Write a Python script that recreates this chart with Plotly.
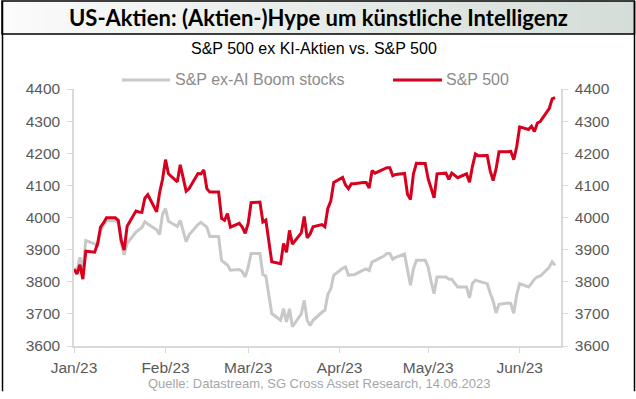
import plotly.graph_objects as go

dates = [
 "2023-01-02","2023-01-03","2023-01-04","2023-01-05","2023-01-06",
 "2023-01-09","2023-01-10","2023-01-11","2023-01-12","2023-01-13",
 "2023-01-16","2023-01-17","2023-01-18","2023-01-19","2023-01-20",
 "2023-01-23","2023-01-24","2023-01-25","2023-01-26","2023-01-27",
 "2023-01-30","2023-01-31","2023-02-01","2023-02-02","2023-02-03",
 "2023-02-06","2023-02-07","2023-02-08","2023-02-09","2023-02-10",
 "2023-02-13","2023-02-14","2023-02-15","2023-02-16","2023-02-17",
 "2023-02-20","2023-02-21","2023-02-22","2023-02-23","2023-02-24",
 "2023-02-27","2023-02-28","2023-03-01","2023-03-02","2023-03-03",
 "2023-03-06","2023-03-07","2023-03-08","2023-03-09","2023-03-10",
 "2023-03-13","2023-03-14","2023-03-15","2023-03-16","2023-03-17",
 "2023-03-20","2023-03-21","2023-03-22","2023-03-23","2023-03-24",
 "2023-03-27","2023-03-28","2023-03-29","2023-03-30","2023-03-31",
 "2023-04-03","2023-04-04","2023-04-05","2023-04-06","2023-04-07",
 "2023-04-10","2023-04-11","2023-04-12","2023-04-13","2023-04-14",
 "2023-04-17","2023-04-18","2023-04-19","2023-04-20","2023-04-21",
 "2023-04-24","2023-04-25","2023-04-26","2023-04-27","2023-04-28",
 "2023-05-01","2023-05-02","2023-05-03","2023-05-04","2023-05-05",
 "2023-05-08","2023-05-09","2023-05-10","2023-05-11","2023-05-12",
 "2023-05-15","2023-05-16","2023-05-17","2023-05-18","2023-05-19",
 "2023-05-22","2023-05-23","2023-05-24","2023-05-25","2023-05-26",
 "2023-05-29","2023-05-30","2023-05-31","2023-06-01","2023-06-02",
 "2023-06-05","2023-06-06","2023-06-07","2023-06-08","2023-06-09",
 "2023-06-12","2023-06-13","2023-06-14",
]

sp500 = [
 3839, 3824, 3853, 3808, 3895,
 3892, 3919, 3970, 3983, 3999,
 3999, 3991, 3929, 3899, 3973,
 4020, 4017, 4016, 4060, 4071,
 4018, 4077, 4119, 4180, 4136,
 4111, 4164, 4118, 4082, 4090,
 4137, 4136, 4148, 4090, 4079,
 4079, 3997, 3991, 4012, 3970,
 3982, 3970, 3951, 3981, 4046,
 4048, 3986, 3992, 3918, 3862,
 3856, 3919, 3892, 3960, 3917,
 3952, 4003, 3937, 3949, 3971,
 3978, 3971, 4028, 4051, 4109,
 4125, 4101, 4090, 4105, 4105,
 4109, 4109, 4092, 4146, 4138,
 4151, 4155, 4155, 4130, 4134,
 4137, 4072, 4056, 4135, 4169,
 4168, 4120, 4091, 4061, 4136,
 4138, 4119, 4138, 4131, 4124,
 4136, 4110, 4159, 4198, 4192,
 4193, 4146, 4115, 4151, 4205,
 4205, 4206, 4180, 4221, 4282,
 4274, 4284, 4268, 4294, 4299,
 4339, 4369, 4373,
]

ex_ai = [
 3842, 3835, 3876, 3838, 3928,
 3918, 3910, 3960, 3975, 3990,
 3990, 3984, 3921, 3884, 3920,
 3955, 3962, 3969, 3987, 3980,
 3962, 3946, 4010, 4028, 3988,
 3972, 3991, 3958, 3925, 3946,
 3978, 3985, 3976, 3970, 3941,
 3941, 3866, 3860, 3852, 3836,
 3838, 3832, 3815, 3845, 3888,
 3888, 3822, 3818, 3760, 3701,
 3680, 3716, 3675, 3716, 3660,
 3700, 3742, 3680, 3664, 3680,
 3705, 3711, 3760, 3778, 3820,
 3842, 3846, 3820, 3822, 3822,
 3836, 3840, 3835, 3862, 3866,
 3880, 3888, 3888, 3870, 3876,
 3886, 3840, 3789, 3840, 3867,
 3867, 3845, 3800, 3763, 3815,
 3815, 3808, 3808, 3795, 3784,
 3784, 3750, 3795, 3805, 3802,
 3794, 3765, 3740, 3703, 3730,
 3734, 3732, 3702, 3760, 3794,
 3784, 3795, 3808, 3815, 3818,
 3845, 3862, 3851,
]

tick_dates = ["2023-01-02","2023-02-02","2023-03-02","2023-04-02","2023-05-02","2023-06-02"]
tick_labels = ["Jan/23","Feb/23","Mar/23","Apr/23","May/23","Jun/23"]
y_ticks = [3600,3700,3800,3900,4000,4100,4200,4300,4400]

W, H = 636, 399
L, R, T, B = 74, 561, 89, 345.7

def px(x):
    return (x - L) / (R - L)

def py(y):
    return (B - y) / (B - T)

FONT = "Liberation Sans, Arial, sans-serif"
AX = "#d9d9d9"
TXT = "#595959"
FS = 15.5

fig = go.Figure()
fig.add_trace(go.Scatter(x=dates, y=ex_ai, mode="lines", name="S&P ex-AI Boom stocks",
                         line=dict(color="#c8c8c8", width=3), showlegend=False))
fig.add_trace(go.Scatter(x=dates, y=sp500, mode="lines", name="S&P 500", yaxis="y2",
                         line=dict(color="#d7001e", width=3), showlegend=False))

axis_common = dict(range=[3600, 4400], tickvals=y_ticks, showgrid=False, zeroline=False,
                   showline=True, linecolor=AX, linewidth=1.5, ticks="outside",
                   ticklen=5, tickcolor=AX, tickwidth=1, ticklabelstandoff=4,
                   tickfont=dict(family=FONT, size=FS, color=TXT))

fig.update_layout(
    width=W, height=H,
    margin=dict(l=L, r=W - R, t=T, b=H - B),
    paper_bgcolor="white", plot_bgcolor="white",
    xaxis=dict(type="date", range=["2023-01-02", "2023-06-16"], tickvals=tick_dates,
               ticktext=tick_labels, showgrid=False, zeroline=False, showline=True,
               linecolor=AX, linewidth=1.5, ticks="outside", ticklen=5, tickcolor=AX,
               ticklabelstandoff=2,
               tickfont=dict(family=FONT, size=FS, color=TXT)),
    yaxis=dict(side="left", **axis_common),
    yaxis2=dict(side="right", overlaying="y", **axis_common),
)

shapes = []
# banner gradient
n = 60
x0, x1 = 2, 634
c0 = (250, 251, 250)
c1 = (212, 221, 215)
for i in range(n):
    t = i / (n - 1)
    c = tuple(int(round(c0[k] + (c1[k] - c0[k]) * t)) for k in range(3))
    a = x0 + (x1 - x0) * i / n
    b = x0 + (x1 - x0) * (i + 1) / n + 0.6
    shapes.append(dict(type="rect", xref="paper", yref="paper", x0=px(a), x1=px(min(b, x1)),
                       y0=py(34), y1=py(1), fillcolor="rgb(%d,%d,%d)" % c, line=dict(width=0),
                       layer="below"))
# banner border & frame
shapes.append(dict(type="rect", xref="paper", yref="paper", x0=px(2), x1=px(634.5), y0=py(34), y1=py(1),
                   line=dict(color="black", width=1.5), fillcolor="rgba(0,0,0,0)"))
shapes.append(dict(type="line", xref="paper", yref="paper", x0=px(2.5), x1=px(2.5), y0=py(391), y1=py(1),
                   line=dict(color="black", width=1.5)))
shapes.append(dict(type="line", xref="paper", yref="paper", x0=px(634.5), x1=px(634.5), y0=py(391), y1=py(1),
                   line=dict(color="black", width=1.5)))
# legend line samples
shapes.append(dict(type="line", xref="paper", yref="paper", x0=px(122), x1=px(170), y0=py(80), y1=py(80),
                   line=dict(color="#c8c8c8", width=3)))
shapes.append(dict(type="line", xref="paper", yref="paper", x0=px(393), x1=px(442), y0=py(80), y1=py(80),
                   line=dict(color="#d7001e", width=3)))
fig.update_layout(shapes=shapes)

ann = []
ann.append(dict(text="<b>US-Aktien: (Aktien-)Hype um künstliche Intelligenz</b>", xref="paper", yref="paper",
                x=px(318), y=py(18), xanchor="center", yanchor="middle", showarrow=False,
                font=dict(family="Lato, Carlito, Calibri, sans-serif", size=22, color="black")))
ann.append(dict(text="S&P 500 ex KI-Aktien vs. S&P 500", xref="paper", yref="paper",
                x=px(314), y=py(49), xanchor="center", yanchor="middle", showarrow=False,
                font=dict(family=FONT, size=16, color="black")))
ann.append(dict(text="S&P ex-AI Boom stocks", xref="paper", yref="paper",
                x=px(173), y=py(80), xanchor="left", yanchor="middle", showarrow=False,
                font=dict(family=FONT, size=16, color="#8c8c8c")))
ann.append(dict(text="S&P 500", xref="paper", yref="paper",
                x=px(444), y=py(80), xanchor="left", yanchor="middle", showarrow=False,
                font=dict(family=FONT, size=16, color="#8c8c8c")))
ann.append(dict(text="Quelle: Datastream, SG Cross Asset Research, 14.06.2023", xref="paper", yref="paper",
                x=px(319), y=py(383), xanchor="center", yanchor="middle", showarrow=False,
                font=dict(family=FONT, size=13, color="#a6a6a6")))
fig.update_layout(annotations=ann)

fig.write_html("out.html", config={"displayModeBar": False},
               post_script="document.body.style.margin='0px';document.body.style.overflow='hidden';")
